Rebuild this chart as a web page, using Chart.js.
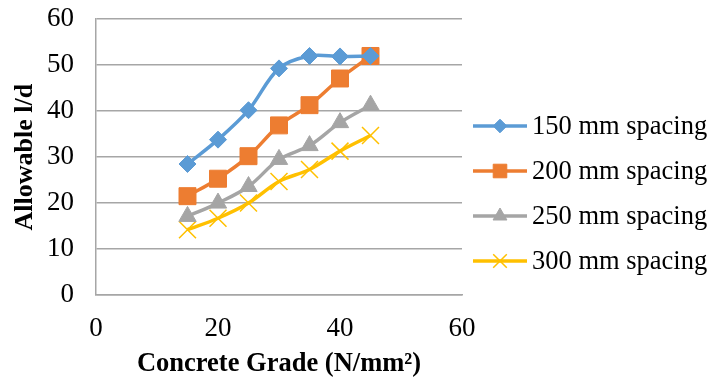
<!DOCTYPE html>
<html>
<head>
<meta charset="utf-8">
<script src="https://cdn.jsdelivr.net/npm/chart.js@4"></script>
<style>
  body { margin: 0; background: #fff; }
  #wrap { width: 710px; height: 380px; }
</style>
</head>
<body>
<div id="wrap"><canvas id="lineChart" width="710" height="380"></canvas></div>
<script>
// concrete grade (N/mm2) on the x axis
var grades = [15, 20, 25, 30, 35, 40, 45];
var seriesNames = ["150 mm spacing", "200 mm spacing", "250 mm spacing", "300 mm spacing"];
var spacing150 = [28.5, 33.8, 40.2, 49.3, 52.0, 51.9, 52.0];
var spacing200 = [21.5, 25.3, 30.2, 36.9, 41.3, 47.1, 52.0];
var spacing250 = [17.1, 20.0, 23.6, 29.5, 32.5, 37.5, 41.3];
var spacing300 = [14.2, 16.7, 20.0, 24.7, 27.3, 31.3, 34.7];
var xTicks = [0, 20, 40, 60];
var yTicks = [0, 10, 20, 30, 40, 50, 60];

var serif = "'Liberation Serif', 'Times New Roman', serif";

function toPoints(values) {
  return values.map(function (v, i) { return { x: grades[i], y: v }; });
}

function makeSet(label, values, color, style, radius) {
  return {
    label: label,
    data: toPoints(values),
    borderColor: color,
    backgroundColor: color,
    borderWidth: 3.5,
    pointStyle: style,
    pointRadius: radius,
    pointHoverRadius: radius,
    pointBorderWidth: style === "crossRot" ? 1.5 : 1,
    pointBorderColor: color,
    pointBackgroundColor: color,
    tension: 0.35,
    fill: false
  };
}

var data = {
  datasets: [
    makeSet(seriesNames[0], spacing150, "#5B9BD5", "rectRot", 8.5),
    makeSet(seriesNames[1], spacing200, "#ED7D31", "rect", 12),
    makeSet(seriesNames[2], spacing250, "#A5A5A5", "triangle", 10),
    makeSet(seriesNames[3], spacing300, "#FFC000", "crossRot", 12)
  ]
};

// legend drawn like the spreadsheet one: line with marker in the middle
var sideLegend = {
  id: "sideLegend",
  afterDraw: function (chart) {
    var ctx = chart.ctx;
    var x0 = 473, x1 = 527, top = 126, gap = 45;
    chart.data.datasets.forEach(function (ds, i) {
      var y = top + i * gap;
      ctx.save();
      ctx.strokeStyle = ds.borderColor;
      ctx.lineWidth = 3.5;
      ctx.beginPath();
      ctx.moveTo(x0, y);
      ctx.lineTo(x1, y);
      ctx.stroke();
      ctx.fillStyle = ds.backgroundColor;
      ctx.lineWidth = ds.pointBorderWidth;
      Chart.helpers.drawPoint(ctx, {
        pointStyle: ds.pointStyle,
        radius: ds.pointRadius * 0.8,
        borderWidth: ds.pointBorderWidth
      }, (x0 + x1) / 2, y);
      ctx.fillStyle = "#000";
      ctx.font = "26.5px " + serif;
      ctx.textBaseline = "middle";
      ctx.textAlign = "left";
      ctx.fillText(ds.label, 532, y + 1);
      ctx.restore();
    });
  }
};

var options = {
  responsive: false,
  animation: false,
  layout: { padding: { left: 0, right: 248, top: 3, bottom: 0 } },
  plugins: {
    legend: { display: false },
    tooltip: { enabled: false }
  },
  scales: {
    x: {
      type: "linear",
      min: 0,
      max: 60,
      afterBuildTicks: function (scale) {
        scale.ticks = xTicks.map(function (v) { return { value: v }; });
      },
      grid: { display: false, drawTicks: false },
      border: { display: true, color: "#A6A6A6", width: 1.5 },
      ticks: { color: "#000", padding: 18, font: { family: serif, size: 27 } },
      title: {
        display: true,
        text: "Concrete Grade (N/mm²)",
        color: "#000",
        padding: { top: 6, bottom: 0 },
        font: { family: serif, size: 26.5, weight: "bold" }
      },
      afterFit: function (scale) { scale.height = 85; }
    },
    y: {
      min: 0,
      max: 60,
      afterBuildTicks: function (scale) {
        scale.ticks = yTicks.map(function (v) { return { value: v }; });
      },
      grid: { color: "#A6A6A6", lineWidth: 1.5, drawTicks: true, tickLength: 19, tickColor: "rgba(0,0,0,0)" },
      border: { display: true, color: "#A6A6A6", width: 1.5 },
      ticks: { color: "#000", padding: 3, font: { family: serif, size: 27 } },
      title: {
        display: true,
        text: "Allowable l/d",
        color: "#000",
        padding: { top: 10, bottom: 0 },
        font: { family: serif, size: 26, weight: "bold" }
      },
      afterFit: function (scale) { scale.width = 96; }
    }
  }
};

var lineChart = new Chart(document.getElementById("lineChart"), {
  type: "line",
  data: data,
  options: options,
  plugins: [sideLegend]
});
</script>
</body>
</html>
